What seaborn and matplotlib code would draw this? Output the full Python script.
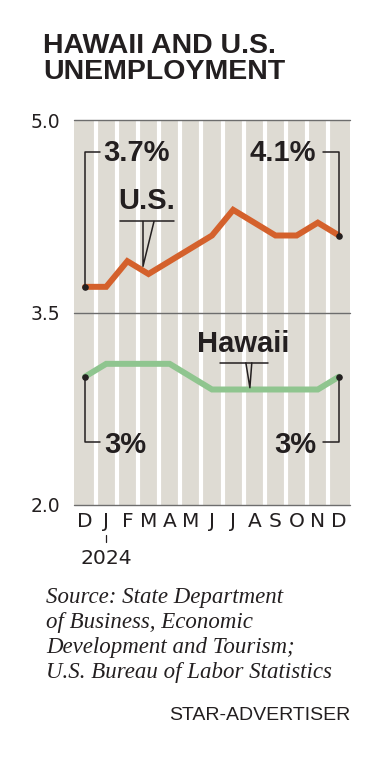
import matplotlib
matplotlib.use("Agg")
import matplotlib.pyplot as plt
import seaborn as sns
import pandas as pd

# data
months = ["D", "J", "F", "M", "A", "M", "J", "J", "A", "S", "O", "N", "D"]
us_rate = [3.7, 3.7, 3.9, 3.8, 3.9, 4.0, 4.1, 4.3, 4.2, 4.1, 4.1, 4.2, 4.1]
hawaii_rate = [3.0, 3.1, 3.1, 3.1, 3.1, 3.0, 2.9, 2.9, 2.9, 2.9, 2.9, 2.9, 3.0]
y_ticks = [2.0, 3.5, 5.0]

sns.set_style("white")
plt.rcParams['font.family'] = ['Liberation Sans', 'DejaVu Sans']

INK = '#231f20'
ORANGE = '#d4612c'
GREEN = '#8fc58f'
STRIPE = '#dedbd3'
TICK_FONT = ['DejaVu Sans']

df = pd.DataFrame({'idx': range(len(months)), 'us': us_rate, 'hawaii': hawaii_rate})

fig = plt.figure(figsize=(3.8, 7.6), dpi=100)
ax = fig.add_axes([74 / 380, (760 - 505) / 760, 276 / 380, 385 / 760])
ax.set_facecolor(STRIPE)

n = len(months)
ax.set_xlim(-0.52, n - 1 + 0.52)
ax.set_ylim(2.0, 5.0)

# white separators between month columns
for i in range(n - 1):
    ax.axvline(i + 0.5, color='white', lw=3.0, zorder=1)
for y in y_ticks:
    ax.axhline(y, color='#6d6d6d', lw=1.0, zorder=2, clip_on=False)

sns.lineplot(data=df, x='idx', y='us', color=ORANGE, lw=4.3, ax=ax, zorder=3,
             solid_joinstyle='miter')
sns.lineplot(data=df, x='idx', y='hawaii', color=GREEN, lw=4.3, ax=ax, zorder=3,
             solid_joinstyle='miter')

# end points
last = n - 1
for series in (us_rate, hawaii_rate):
    ax.scatter([0, last], [series[0], series[last]], s=14, color=INK, zorder=5)

for s in ax.spines.values():
    s.set_visible(False)

ax.set_xticks(range(n))
ax.set_xticklabels(months, fontsize=14.5, color=INK, family=TICK_FONT)
ax.set_yticks(y_ticks)
ax.set_yticklabels([f"{v:.1f}" for v in y_ticks], fontsize=13.5, color=INK,
                   family=TICK_FONT)
ax.tick_params(axis='both', length=0)
ax.tick_params(axis='x', pad=5)
ax.tick_params(axis='y', pad=10)
ax.set_xlabel("")
ax.set_ylabel("")

# 2024 marker below J
ax.plot([1, 1], [1.765, 1.71], color=INK, lw=0.9, clip_on=False)
ax.text(1, 1.58, "2024", ha='center', va='center', fontsize=14.7, color=INK,
        family=TICK_FONT, clip_on=False)

# callout brackets
lbl = dict(fontsize=21, fontweight='bold', color=INK, va='center')
br = dict(color=INK, lw=1.1, zorder=4)
top_y, bot_y = 4.75, 2.49
ax.plot([0, 0, 0.71], [us_rate[0], top_y, top_y], **br)
ax.text(0.85, top_y - 0.01, f"{us_rate[0]:.1f}%", ha='left', **lbl)
ax.plot([last, last, 11.24], [us_rate[last], top_y, top_y], **br)
ax.text(10.91, top_y - 0.01, f"{us_rate[last]:.1f}%", ha='right', **lbl)

ax.plot([0, 0, 0.71], [hawaii_rate[0], bot_y, bot_y], **br)
ax.text(0.9, bot_y - 0.02, f"{hawaii_rate[0]:.0f}%", ha='left', **lbl)
ax.plot([last, last, 11.24], [hawaii_rate[last], bot_y, bot_y], **br)
ax.text(10.91, bot_y - 0.02, f"{hawaii_rate[last]:.0f}%", ha='right', **lbl)

# series labels with pointers
ax.text(2.93, 4.26, "U.S.", ha='center', va='bottom', fontsize=21,
        fontweight='bold', color=INK)
ax.plot([1.65, 4.2], [4.21, 4.21], **br)
ax.plot([2.74, 2.74, 3.26], [4.21, 3.86, 4.21], **br)

ax.text(7.46, 3.145, "Hawaii", ha='center', va='bottom', fontsize=21,
        fontweight='bold', color=INK)
ax.plot([6.38, 8.64], [3.108, 3.108], **br)
ax.plot([7.6, 7.79, 7.88], [3.108, 2.914, 3.108], **br)

# title and footer
fig.text(43 / 380, 1 - 33 / 760, "HAWAII AND U.S.\nUNEMPLOYMENT", ha='left',
         va='top', fontsize=20.5, fontweight='bold', color=INK, linespacing=1.0)
fig.text(46 / 380, 1 - 587 / 760,
         "Source: State Department\nof Business, Economic\n"
         "Development and Tourism;\nU.S. Bureau of Labor Statistics",
         ha='left', va='top', fontsize=16.5, style='italic', color=INK,
         family=['Liberation Serif', 'DejaVu Serif'], linespacing=1.24)
fig.text(350 / 380, 1 - 715 / 760, "STAR-ADVERTISER", ha='right', va='center',
         fontsize=14, color=INK)

fig.savefig("out.png", dpi=100)
